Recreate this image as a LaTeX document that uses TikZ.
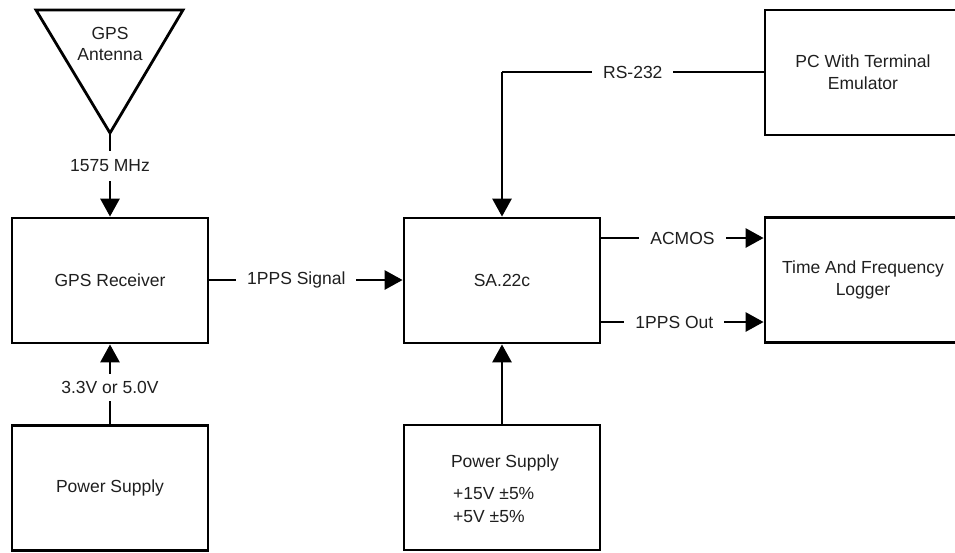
\documentclass[tikz,border=0pt]{standalone}
\usepackage{fontspec}
\setmainfont{Liberation Sans}
\usetikzlibrary{arrows.meta}
\begin{document}
\begin{tikzpicture}[x=1pt,y=-1pt,
  lw/.style={line width=2.8pt},
  blk/.style={draw,lw,minimum width=196pt,minimum height=125pt,inner sep=0pt,align=center,text=black!88,font=\fontsize{17.5}{22}\selectfont},
  txt/.style={inner sep=0pt,text=black!88,font=\fontsize{17.5}{22}\selectfont},
  lbl/.style={fill=white,inner xsep=11pt,inner ysep=7pt,text=black!88,font=\fontsize{17.5}{22}\selectfont},
  arr/.style={lw,-{Triangle[length=18pt,width=19pt]}},
  ln/.style={lw}]
\useasboundingbox (0,0) rectangle (955,552);
% antenna
\coordinate (apex) at (110,133);
\coordinate (tl) at (36,10);
\coordinate (tr) at (183,10);
\draw[lw,line join=miter] (tl) -- (tr) -- (apex) -- cycle;
\node[txt,align=center,font=\fontsize{17.5}{21}\selectfont] (anttxt) at (110,44) {GPS\\Antenna};
% boxes
\node[blk] (rec) at (110,280.5) {GPS Receiver};
\node[blk] (psl) at (110,488) {Power Supply};
\node[blk] (sa) at (502,280.5) {SA.22c};
\node[blk] (psr) at (502,487.5) {};
\node[blk] (pc) at (863,72.5) {PC With Terminal\\Emulator};
\node[blk] (log) at (863,280) {Time And Frequency\\Logger};
% power supply right text
\node[txt] (pst) at (505,463) {Power Supply};
\node[txt,anchor=west] (v15) at (453,494) {+15V ±5\%};
\node[txt,anchor=west] (v5) at (453,517) {+5V ±5\%};
% connectors
\draw[arr] (apex) -- node[lbl,pos=0.39,inner ysep=9pt] (l1575) {1575 MHz} (rec.north);
\draw[arr] (psl.north) -- node[lbl,pos=0.46] (l33) {3.3V or 5.0V} (rec.south);
\draw[arr] (rec.east |- 0,280) -- node[lbl,pos=0.45] (l1pps) {1PPS Signal} (sa.west |- 0,280);
\draw[arr] (psr.north) -- (sa.south);
\coordinate (rsc) at (502,72);
\draw[ln] (pc.west |- 0,72) -- node[lbl,pos=0.5] (lrs) {RS-232} (rsc);
\draw[arr] (rsc) -- (sa.north);
\draw[arr] (sa.east |- 0,238) -- node[lbl,pos=0.5] (lacm) {ACMOS} (log.west |- 0,238);
\draw[arr] (sa.east |- 0,322) -- node[lbl,pos=0.45] (lout) {1PPS Out} (log.west |- 0,322);
\end{tikzpicture}
\end{document}
